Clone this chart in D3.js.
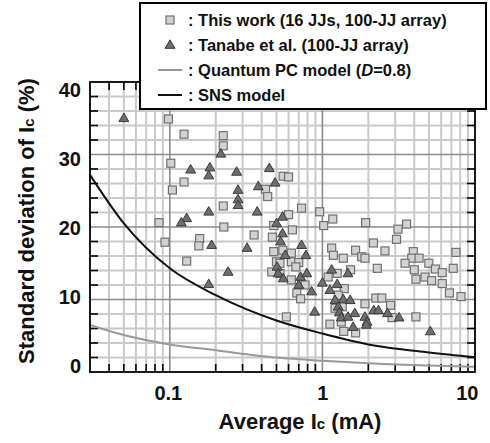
<!DOCTYPE html>
<html>
<head>
<meta charset="utf-8">
<script src="https://cdn.jsdelivr.net/npm/d3@7"></script>
<style>
  html, body { margin: 0; padding: 0; background: #fff; }
  svg { display: block; font-family: "Liberation Sans", Arial, sans-serif; }
</style>
</head>
<body>
<svg id="chart" width="490" height="443"></svg>
<script>
// ---- data ----
const workX = [0.098,0.124,0.224,0.224,0.1015,0.124,0.104,0.224,0.085,0.226,0.093,0.157,0.155,0.129,
  0.553,0.60,0.424,0.438,0.73,0.96,1.17,0.60,1.02,0.48,0.636,0.357,0.47,1.15,1.18,1.37,1.65,0.48,0.55,0.626,
  0.50,0.527,0.626,0.70,0.67,0.466,0.527,0.626,0.77,1.09,1.25,1.53,1.39,0.68,0.72,1.27,1.21,1.35,0.58,1.12,
  1.33,1.38,1.65,1.92,3.13,3.56,3.06,2.16,1.81,1.9,2.57,3.94,3.85,4.3,3.48,4.98,5.5,6.1,7.2,7.5,4.0,4.1,4.7,
  5.2,6.1,6.8,8.1,2.29,2.24,2.45,1.9,2.8,4.1,2.86];
const workY = [34.9,32.8,32.6,31.2,28.8,26.2,25.1,22.9,20.6,20.0,17.9,18.4,17.4,15.3,
  27.0,26.9,25.2,24.2,22.6,22.1,21.1,21.7,20.2,20.2,19.6,18.9,18.6,17.1,16.1,15.7,16.8,16.6,16.8,16.4,
  15.2,15.0,15.2,15.1,14.5,13.8,13.6,12.7,12.0,13.1,13.6,14.1,11.5,10.9,10.1,10.6,8.8,9.0,7.6,6.6,
  6.9,5.6,5.4,20.6,19.7,20.4,18.3,17.8,15.9,15.7,16.7,16.6,15.7,15.7,15.0,15.0,14.2,13.7,14.3,16.5,14.1,12.8,13.1,
  12.6,12.2,10.9,10.4,14.3,10.2,10.2,9.4,9.2,7.6,7.5];

const tanabeX = [0.050,0.216,0.137,0.183,0.18,0.18,0.129,0.119,0.188,0.18,0.274,0.449,0.38,0.49,0.28,0.28,0.28,
  0.374,0.548,0.501,0.548,0.532,0.321,0.73,0.78,0.57,0.241,0.505,0.513,0.554,0.72,0.79,0.70,0.85,1.0,1.15,1.47,
  1.25,1.12,1.21,1.37,1.52,1.27,1.29,1.33,1.47,1.63,0.89,1.59,1.9,1.96,1.94,2.17,2.33,2.67,3.18,5.1];
const tanabeY = [35.0,30.1,27.9,28.2,27.1,22.1,21.2,20.6,17.5,12.1,27.6,28.1,25.6,26.1,25.1,23.8,23.0,
  22.1,21.4,20.5,19.1,18.0,17.1,17.5,16.1,16.1,13.8,14.5,13.6,12.9,13.1,13.6,12.0,11.1,12.3,14.1,13.6,
  12.1,11.3,9.9,10.0,9.9,9.0,8.2,7.5,7.6,8.1,8.3,6.2,7.6,6.9,6.5,8.5,8.5,8.1,7.5,5.6];

// model curves
const snsX = [0.03,0.05,0.1,0.2,0.5,1,2,5,10];
const snsY = [27.2,20.5,14.3,10.6,7.1,5.3,3.8,2.7,2.05];
const pcX  = [0.03,0.05,0.1,0.2,0.5,1,2,5,10];
const pcY  = [6.5,5.1,3.8,3.0,2.0,1.55,1.2,0.9,0.72];

const xMajor = [0.1, 1, 10];
const xMinor = [0.04,0.05,0.06,0.07,0.08,0.09,0.2,0.3,0.4,0.5,0.6,0.7,0.8,0.9,2,3,4,5,6,7,8,9];
const yTicks = [0,10,20,30,40];
const yMinor = [2,4,6,8,12,14,16,18,22,24,26,28,32,34,36,38];

const legendLabels = [": This work (16 JJs, 100-JJ array)", ": Tanabe et al. (100-JJ array)", ": Quantum PC model (", ": SNS model"];

// ---- layout ----
const L = 90, R = 475, T = 82, B = 372;
const svg = d3.select("#chart");
const x = d3.scaleLog().domain([0.03, 10]).range([L, R]);
const y = d3.scaleLinear().domain([0, 40]).range([B, T]);
const yLab = d3.scaleLinear().domain([0, 40]).range([366.5, 90.5]);

const lightGrid = "#c9c9c9", darkGrid = "#8c8c8c";

// grid
const g = svg.append("g");
g.selectAll(".vmin").data(xMinor).join("line")
  .attr("x1", d => x(d)).attr("x2", d => x(d)).attr("y1", T).attr("y2", B)
  .attr("stroke", lightGrid).attr("stroke-width", 2);
g.selectAll(".hmin").data(yMinor).join("line")
  .attr("x1", L).attr("x2", R).attr("y1", d => y(d)).attr("y2", d => y(d))
  .attr("stroke", lightGrid).attr("stroke-width", 2);
g.selectAll(".vmaj").data([0.1, 1]).join("line")
  .attr("x1", d => x(d)).attr("x2", d => x(d)).attr("y1", T).attr("y2", B)
  .attr("stroke", darkGrid).attr("stroke-width", 1.6);
g.selectAll(".hmaj").data([10, 20, 30]).join("line")
  .attr("x1", L).attr("x2", R).attr("y1", d => y(d)).attr("y2", d => y(d))
  .attr("stroke", darkGrid).attr("stroke-width", 1.6);

// ticks (inward) on all four sides
const tk = svg.append("g").attr("stroke", "#000").attr("stroke-width", 1.6);
tk.selectAll(".tb").data(xMinor).join("line")
  .attr("x1", d => x(d)).attr("x2", d => x(d)).attr("y1", B).attr("y2", B - 8);
tk.selectAll(".tt").data(xMinor).join("line")
  .attr("x1", d => x(d)).attr("x2", d => x(d)).attr("y1", T).attr("y2", T + 8);
tk.selectAll(".tl").data(yMinor).join("line")
  .attr("x1", L).attr("x2", L + 8).attr("y1", d => y(d)).attr("y2", d => y(d));
tk.selectAll(".tr").data(yMinor).join("line")
  .attr("x1", R).attr("x2", R - 8).attr("y1", d => y(d)).attr("y2", d => y(d));

// model curves
const line = d3.line().x(d => x(d[0])).y(d => y(d[1])).curve(d3.curveMonotoneX);
svg.append("clipPath").attr("id", "clip").append("rect")
  .attr("x", L).attr("y", T).attr("width", R - L).attr("height", B - T);
svg.append("path").datum(pcX.map((v, i) => [v, pcY[i]]))
  .attr("d", line).attr("fill", "none").attr("stroke", "#999").attr("stroke-width", 2)
  .attr("clip-path", "url(#clip)");
svg.append("path").datum(snsX.map((v, i) => [v, snsY[i]]))
  .attr("d", line).attr("fill", "none").attr("stroke", "#111").attr("stroke-width", 2)
  .attr("clip-path", "url(#clip)");

// markers
const sq = 8;
svg.append("g").selectAll("rect").data(workX.map((v, i) => [v, workY[i]])).join("rect")
  .attr("x", d => x(d[0]) - sq / 2).attr("y", d => y(d[1]) - sq / 2)
  .attr("width", sq).attr("height", sq)
  .attr("fill", "#d2d2d2").attr("stroke", "#707070").attr("stroke-width", 1.2);
const tri = d3.symbol().type(d3.symbolTriangle).size(42);
svg.append("g").selectAll("path").data(tanabeX.map((v, i) => [v, tanabeY[i]])).join("path")
  .attr("d", tri)
  .attr("transform", d => `translate(${x(d[0])},${y(d[1]) + 0.5})`)
  .attr("fill", "#6e6e6e").attr("stroke", "#3a3a3a").attr("stroke-width", 1);

// frame
svg.append("rect").attr("x", L).attr("y", T).attr("width", R - L).attr("height", B - T)
  .attr("fill", "none").attr("stroke", "#000").attr("stroke-width", 1.8);

// axes labels
const xAx = d3.axisBottom(x).tickValues(xMajor).tickFormat(d => d >= 1 ? d3.format("d")(d) : d3.format(".1f")(d)).tickSize(0);
const gx = svg.append("g").attr("transform", `translate(0,${B})`).call(xAx);
gx.select(".domain").remove();
gx.selectAll("text").attr("font-size", 20).attr("font-weight", "bold").attr("fill", "#111")
  .attr("dy", 0).attr("y", 28)
  .attr("text-anchor", d => d === 10 ? "end" : "middle")
  .attr("dx", d => d === 10 ? 3 : (d === 0.1 ? -2 : 0));

const yAx = d3.axisLeft(yLab).tickValues(yTicks).tickSize(0);
const gy = svg.append("g").attr("transform", `translate(${L},0)`).call(yAx);
gy.select(".domain").remove();
gy.selectAll("text").attr("font-size", 20).attr("font-weight", "bold").attr("fill", "#111")
  .attr("x", -9);

// axis titles
const xt = svg.append("text").attr("x", 300).attr("y", 429).attr("text-anchor", "middle")
  .attr("font-size", 22).attr("font-weight", "bold").attr("fill", "#111");
xt.append("tspan").text("Average I");
xt.append("tspan").attr("font-size", 15).text("c");
xt.append("tspan").text(" (mA)");

const yt = svg.append("text").attr("transform", "translate(34,221) rotate(-90)")
  .attr("text-anchor", "middle").attr("font-size", 22).attr("font-weight", "bold").attr("fill", "#111");
yt.append("tspan").text("Standard deviation of I");
yt.append("tspan").attr("font-size", 15).text("c");
yt.append("tspan").text(" (%)");

// legend
const lg = svg.append("g");
lg.append("rect").attr("x", 140).attr("y", 3).attr("width", 346).attr("height", 106)
  .attr("fill", "#fff").attr("stroke", "#000").attr("stroke-width", 2);
const rowY = [20, 45, 70, 95];
const mx = 170;
lg.append("rect").attr("x", mx - 4).attr("y", rowY[0] - 4).attr("width", 8).attr("height", 8)
  .attr("fill", "#d2d2d2").attr("stroke", "#707070").attr("stroke-width", 1.2);
lg.append("path").attr("d", tri).attr("transform", `translate(${mx},${rowY[1] + 0.5})`)
  .attr("fill", "#6e6e6e").attr("stroke", "#3a3a3a");
lg.append("line").attr("x1", mx - 12).attr("x2", mx + 12).attr("y1", rowY[2]).attr("y2", rowY[2])
  .attr("stroke", "#999").attr("stroke-width", 2);
lg.append("line").attr("x1", mx - 12).attr("x2", mx + 12).attr("y1", rowY[3]).attr("y2", rowY[3])
  .attr("stroke", "#111").attr("stroke-width", 2);
legendLabels.forEach((t, i) => {
  const tx = lg.append("text").attr("x", 188).attr("y", rowY[i] + 6)
    .attr("font-size", 16.5).attr("font-weight", "bold").attr("fill", "#111");
  tx.append("tspan").text(t);
  if (i === 2) {
    tx.append("tspan").attr("font-style", "italic").text("D");
    tx.append("tspan").text("=0.8)");
  }
});
</script>
</body>
</html>
